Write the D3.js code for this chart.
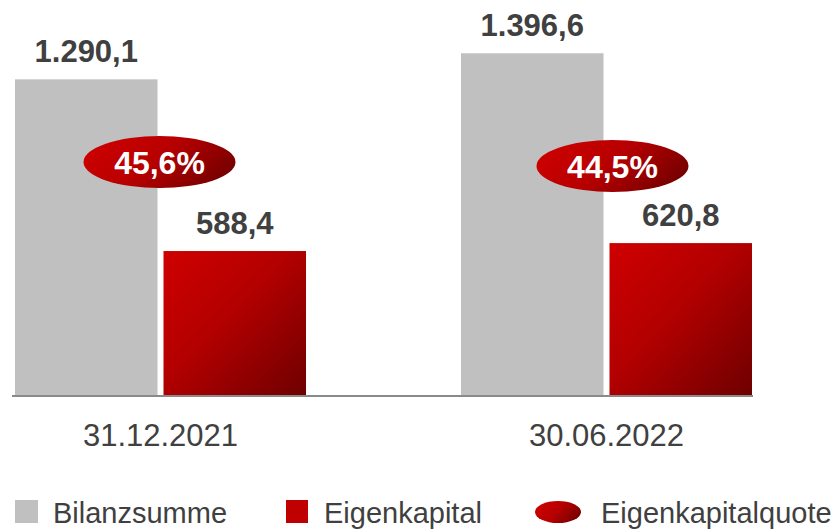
<!DOCTYPE html>
<html><head><meta charset="utf-8">
<script src="https://cdn.jsdelivr.net/npm/d3@7"></script>
<style>body{margin:0;background:#fff}svg{display:block}</style>
</head><body><div id="chart"></div>
<script>
const categories = ["31.12.2021", "30.06.2022"];
const seriesNames = ["Bilanzsumme", "Eigenkapital"];
const bilanzsumme = [1290.1, 1396.6];
const eigenkapital = [588.4, 620.8];
const quote = [45.6, 44.5];
const valueLabels = [["1.290,1", "588,4"], ["1.396,6", "620,8"]];
const quoteLabels = ["45,6%", "44,5%"];
const legendLabels = ["Bilanzsumme", "Eigenkapital", "Eigenkapitalquote"];

const W = 838, H = 532;
const svg = d3.select("#chart").append("svg").attr("width", W).attr("height", H);
const defs = svg.append("defs");
const g1 = defs.append("linearGradient").attr("id", "barGrad").attr("x1", "0").attr("y1", "0").attr("x2", "1").attr("y2", "1");
g1.append("stop").attr("offset", "0%").attr("stop-color", "#cf0000");
g1.append("stop").attr("offset", "45%").attr("stop-color", "#b30000");
g1.append("stop").attr("offset", "100%").attr("stop-color", "#6e0000");
const g2 = defs.append("linearGradient").attr("id", "ellGrad").attr("x1", "0").attr("y1", "0.3").attr("x2", "1").attr("y2", "0.7");
g2.append("stop").attr("offset", "0%").attr("stop-color", "#cc0000");
g2.append("stop").attr("offset", "45%").attr("stop-color", "#b80000");
g2.append("stop").attr("offset", "100%").attr("stop-color", "#720000");

const x0 = d3.scaleBand().domain(categories).range([15, 752]).paddingInner(0.3475).paddingOuter(0);
const x1 = d3.scaleBand().domain(seriesNames).range([0, x0.bandwidth()]).paddingInner(0.0404);
const y = d3.scaleLinear().domain([0, 1600]).range([395, 3.5]);
const yPct = d3.scaleLinear().domain([0, 100]).range([328, -36]);

const data = categories.map((c, i) => ({c, i, vals: [bilanzsumme[i], eigenkapital[i]]}));
const grp = svg.selectAll("g.cat").data(data).join("g").attr("class", "cat")
  .attr("transform", d => `translate(${x0(d.c)},0)`);

grp.selectAll("rect").data(d => d.vals.map((v, j) => ({v, j, s: seriesNames[j]}))).join("rect")
  .attr("x", d => x1(d.s)).attr("width", x1.bandwidth())
  .attr("y", d => y(d.v)).attr("height", d => y(0) - y(d.v))
  .attr("fill", d => d.j === 0 ? "#c0c0c0" : "url(#barGrad)");

grp.selectAll("text.val").data(d => d.vals.map((v, j) => ({v, j, s: seriesNames[j], label: valueLabels[d.i][j]}))).join("text")
  .attr("class", "val")
  .attr("x", d => x1(d.s) + x1.bandwidth() / 2).attr("y", d => y(d.v) - 17)
  .attr("text-anchor", "middle").attr("font-family", "Liberation Sans, Arial, sans-serif")
  .attr("font-weight", "bold").attr("font-size", 31).attr("fill", "#404040")
  .text(d => d.label);

// axis baseline
svg.append("line").attr("x1", 12).attr("x2", 753).attr("y1", y(0) + 1).attr("y2", y(0) + 1)
  .attr("stroke", "#8a8a8a").attr("stroke-width", 2);

// category axis labels
const xAxis = d3.axisBottom(x0).tickSize(0).tickPadding(0);
const ax = svg.append("g").attr("transform", `translate(0,${y(0)})`).call(xAxis);
ax.select(".domain").remove();
ax.selectAll("text").attr("dy", null).attr("y", 51)
  .attr("font-family", "Liberation Sans, Arial, sans-serif").attr("font-size", 31).attr("fill", "#404040");

// ellipses
grp.append("ellipse").attr("cx", (d, i) => x0.bandwidth() / 2 + (i === 1 ? 6 : -1)).attr("cy", d => yPct(quote[d.i]))
  .attr("rx", 76).attr("ry", 26).attr("fill", "url(#ellGrad)");
grp.append("text").attr("x", (d, i) => x0.bandwidth() / 2 + (i === 1 ? 6 : -1)).attr("y", d => yPct(quote[d.i]))
  .attr("dy", "0.37em").attr("text-anchor", "middle")
  .attr("font-family", "Liberation Sans, Arial, sans-serif").attr("font-weight", "bold")
  .attr("font-size", 32).attr("fill", "#ffffff").text(d => quoteLabels[d.i]);

// legend
const leg = svg.append("g");
const legX = [15, 286, 535];
const textX = [53, 324, 601];
legendLabels.forEach((l, i) => {
  if (i === 0) leg.append("rect").attr("x", legX[i]).attr("y", 500).attr("width", 23).attr("height", 23).attr("fill", "#c0c0c0");
  else if (i === 1) leg.append("rect").attr("x", legX[i]).attr("y", 500).attr("width", 22).attr("height", 23).attr("fill", "#c00000");
  else leg.append("ellipse").attr("cx", legX[i] + 23).attr("cy", 512).attr("rx", 23).attr("ry", 11).attr("fill", "url(#ellGrad)");
  leg.append("text").attr("x", textX[i]).attr("y", 523)
    .attr("font-family", "Liberation Sans, Arial, sans-serif").attr("font-size", 29).attr("fill", "#404040")
    .text(l);
});
</script></body></html>
